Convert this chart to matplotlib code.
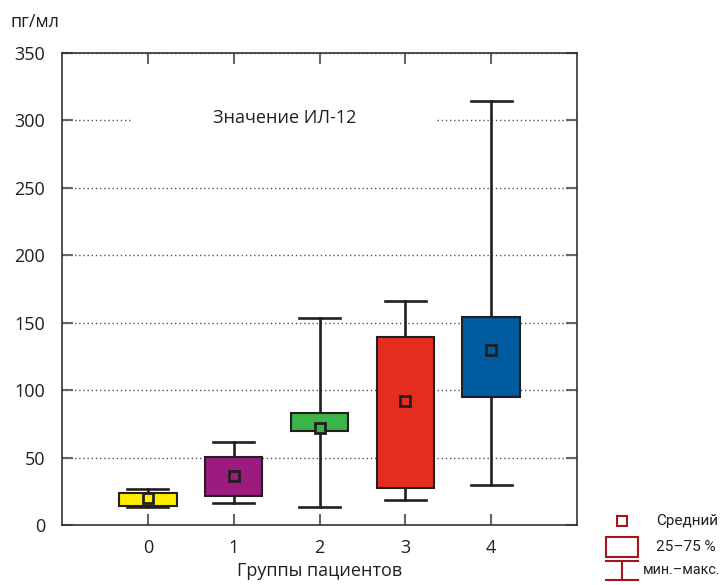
import matplotlib.pyplot as plt
from matplotlib.patches import Rectangle
from matplotlib.lines import Line2D

plt.rcParams['font.family'] = ['Open Sans', 'DejaVu Sans']

# данные
groups = ['0', '1', '2', '3', '4']
mins = [13, 16, 13, 18.5, 29.7]
q1 = [14, 21.7, 69.7, 27.4, 95.1]
q3 = [24, 50.7, 83.3, 139.2, 154.5]
maxs = [26.7, 61.8, 153.7, 166, 314.4]
means = [20, 36.6, 72, 92.2, 129.8]
colors = ['#FFED00', '#9B1B7E', '#3BB44A', '#E42D20', '#005BA1']
yticks = [0, 50, 100, 150, 200, 250, 300, 350]

edge = '#231F20'
legend_red = '#A0171E'

fig = plt.figure(figsize=(7.26, 5.85), dpi=100)
ax = fig.add_axes([62 / 726, 1 - 525 / 585, (577 - 62) / 726, (525 - 53) / 585])

stats = []
for i in range(len(groups)):
    stats.append(dict(whislo=mins[i], q1=q1[i], med=q1[i], q3=q3[i],
                      whishi=maxs[i], mean=means[i], label=groups[i]))

pos = list(range(len(groups)))
bp = ax.bxp(stats, positions=pos, widths=0.67, capwidths=0.48,
            showmeans=True, patch_artist=True, showfliers=False,
            boxprops=dict(edgecolor=edge, linewidth=1.5),
            whiskerprops=dict(color=edge, linewidth=1.9),
            capprops=dict(color=edge, linewidth=1.9),
            medianprops=dict(linestyle='none'),
            meanprops=dict(marker='s', markersize=7, markeredgecolor=edge,
                           markeredgewidth=2))
for patch, mean_line, c in zip(bp['boxes'], bp['means'], colors):
    patch.set_facecolor(c)
    patch.set_zorder(3)
    mean_line.set_markerfacecolor(c)
    mean_line.set_zorder(4)
for w in bp['whiskers'] + bp['caps']:
    w.set_zorder(2)

ax.set_xlim(-1, 5)
ax.set_ylim(0, 350)
ax.set_yticks(yticks)
ax.set_xticks(pos)
ax.set_xticklabels(groups)
ax.yaxis.grid(True, linestyle=(0, (1, 2)), color='#555555', linewidth=1)
ax.set_axisbelow(True)

# белая подложка под заголовком (разрыв линии сетки)
ax.add_patch(Rectangle((-0.17, 295), 3.53, 10, facecolor='white',
                       edgecolor='none', zorder=1.5))
ax.text(1.59, 302, 'Значение ИЛ-12', ha='center', va='center',
        fontsize=13, color='#231F20', zorder=5)

ax.tick_params(axis='both', direction='in', length=8, width=1.5,
               color='#666666', labelsize=13, labelcolor='#231F20',
               top=True, right=True)
ax.tick_params(axis='y', pad=12)
ax.tick_params(axis='x', pad=10)
for s in ax.spines.values():
    s.set_color('#333333')
    s.set_linewidth(1.2)

ax.set_xlabel('Группы пациентов', fontsize=13, color='#231F20', labelpad=4)
fig.text(10 / 726, 1 - 22 / 585, 'пг/мл', fontsize=13, color='#231F20',
         va='center', ha='left')

# легенда
def fx(px):
    return px / 726

def fy(px):
    return 1 - px / 585

fig.add_artist(Line2D([fx(622)], [fy(521)], marker='s', markersize=7,
                      markerfacecolor='white', markeredgecolor=legend_red,
                      markeredgewidth=1.5, linestyle='none'))
fig.add_artist(Rectangle((fx(606), fy(557)), fx(638) - fx(606), fy(537) - fy(557),
                         facecolor='white', edgecolor=legend_red, linewidth=1.5,
                         transform=fig.transFigure))
fig.add_artist(Line2D([fx(606), fx(638)], [fy(561), fy(561)], color=legend_red, lw=1.5))
fig.add_artist(Line2D([fx(622), fx(622)], [fy(561), fy(580)], color=legend_red, lw=1.5))
fig.add_artist(Line2D([fx(606), fx(638)], [fy(580), fy(580)], color=legend_red, lw=1.5))
leg_font = ['Roboto', 'DejaVu Sans']
fig.text(fx(656), fy(521), 'Средний', fontsize=11, color='#231F20', va='center', family=leg_font)
fig.text(fx(656), fy(547), '25–75 %', fontsize=11, color='#231F20', va='center', family=leg_font)
fig.text(fx(643), fy(570), 'мин.–макс.', fontsize=10.3, color='#231F20', va='center', family=leg_font)

fig.savefig('out.png', dpi=100)
